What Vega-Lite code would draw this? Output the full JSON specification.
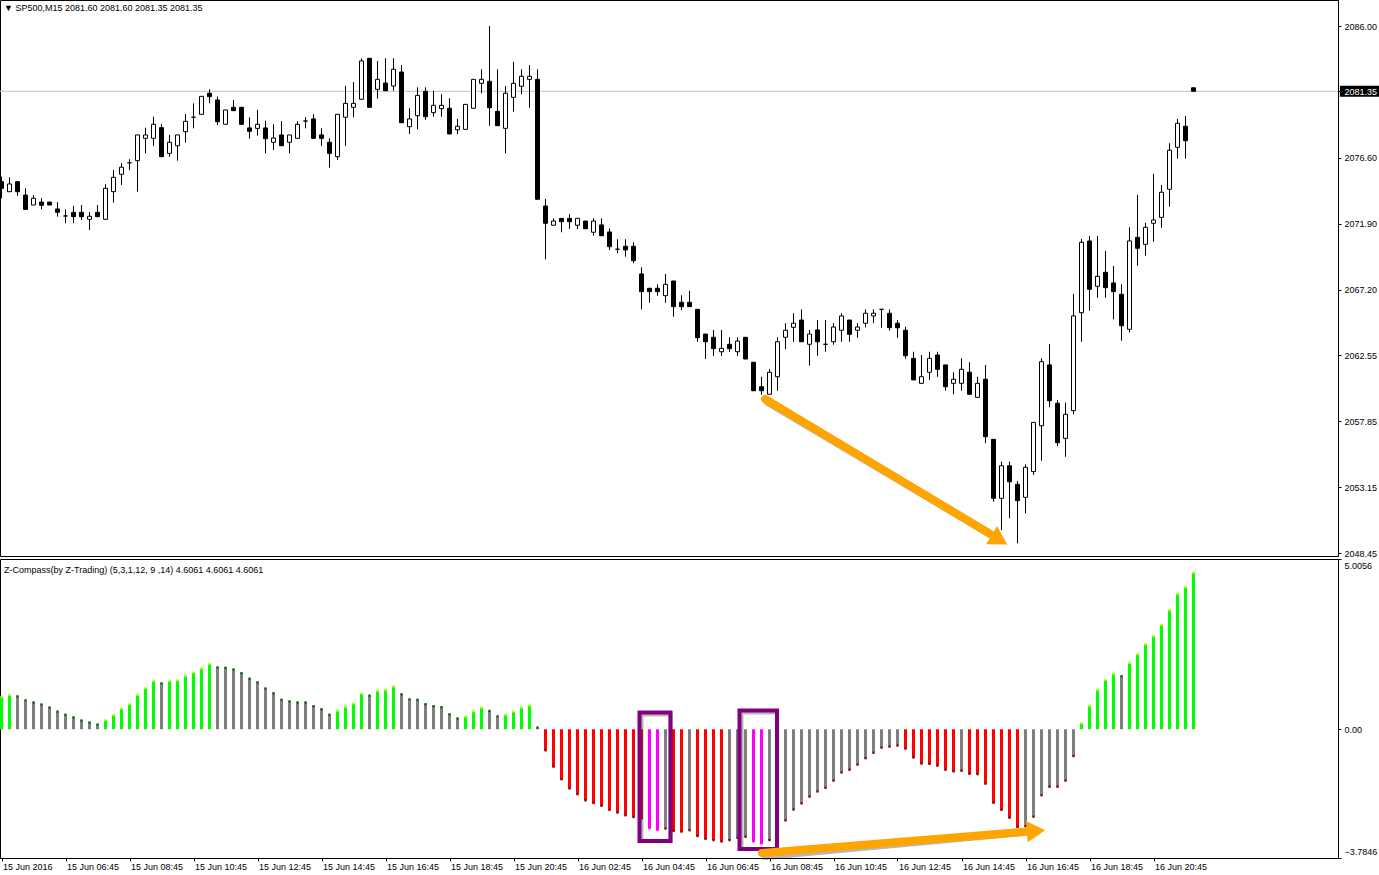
{
  "$schema": "https://vega.github.io/schema/vega-lite/v6.json",
  "background": "white",
  "padding": {"left": -1, "top": -1, "right": 0, "bottom": 0},
  "spacing": 3,
  "bounds": "flush",
  "config": {
    "view": {"stroke": "black", "strokeWidth": 1},
    "font": "Liberation Sans",
    "scale": {"continuousPadding": 0},
    "axis": {"labelFont": "Liberation Sans", "labelFontSize": 9, "labelColor": "black", "domainColor": "black", "tickColor": "black", "grid": false, "title": null, "tickSize": 3, "labelOverlap": false, "labelBound": false},
    "title": {"anchor": "start", "frame": "group", "font": "Liberation Sans", "fontSize": 9, "fontWeight": "normal", "color": "black"}
  },
  "datasets": {
    "candles": [
      {"i":0,"o":2074.91,"h":2075.27,"l":2073.73,"c":2074.44},
      {"i":1,"o":2074.20,"h":2075.22,"l":2074.20,"c":2074.75},
      {"i":2,"o":2074.91,"h":2074.91,"l":2073.91,"c":2074.20},
      {"i":3,"o":2073.96,"h":2074.44,"l":2072.94,"c":2072.94},
      {"i":4,"o":2073.25,"h":2073.96,"l":2073.25,"c":2073.73},
      {"i":5,"o":2073.46,"h":2073.73,"l":2072.94,"c":2073.23},
      {"i":6,"o":2073.46,"h":2073.46,"l":2073.25,"c":2073.25},
      {"i":7,"o":2072.97,"h":2073.46,"l":2072.42,"c":2072.73},
      {"i":8,"o":2072.47,"h":2072.94,"l":2071.95,"c":2072.47},
      {"i":9,"o":2072.73,"h":2073.18,"l":2071.95,"c":2072.42},
      {"i":10,"o":2072.73,"h":2073.25,"l":2072.18,"c":2072.42},
      {"i":11,"o":2072.23,"h":2072.75,"l":2071.47,"c":2072.45},
      {"i":12,"o":2072.73,"h":2073.25,"l":2072.42,"c":2072.42},
      {"i":13,"o":2072.23,"h":2074.73,"l":2072.23,"c":2074.44},
      {"i":14,"o":2074.20,"h":2075.74,"l":2073.42,"c":2075.22},
      {"i":15,"o":2075.44,"h":2076.24,"l":2074.68,"c":2075.94},
      {"i":16,"o":2076.26,"h":2076.51,"l":2075.74,"c":2076.26},
      {"i":17,"o":2076.41,"h":2078.24,"l":2074.20,"c":2078.24},
      {"i":18,"o":2078.00,"h":2078.76,"l":2076.93,"c":2078.24},
      {"i":19,"o":2078.00,"h":2079.54,"l":2077.47,"c":2079.00},
      {"i":20,"o":2078.76,"h":2079.02,"l":2076.69,"c":2076.69},
      {"i":21,"o":2076.93,"h":2078.24,"l":2076.69,"c":2077.72},
      {"i":22,"o":2077.47,"h":2078.24,"l":2076.41,"c":2078.24},
      {"i":23,"o":2078.47,"h":2079.73,"l":2077.69,"c":2079.21},
      {"i":24,"o":2079.50,"h":2080.49,"l":2078.71,"c":2079.50},
      {"i":25,"o":2079.71,"h":2080.99,"l":2079.71,"c":2080.99},
      {"i":26,"o":2081.21,"h":2081.49,"l":2080.49,"c":2080.97},
      {"i":27,"o":2080.73,"h":2080.97,"l":2078.95,"c":2079.18},
      {"i":28,"o":2079.00,"h":2080.02,"l":2079.00,"c":2080.02},
      {"i":29,"o":2080.21,"h":2080.73,"l":2079.97,"c":2079.97},
      {"i":30,"o":2080.21,"h":2080.21,"l":2079.00,"c":2079.00},
      {"i":31,"o":2078.74,"h":2079.50,"l":2077.97,"c":2078.50},
      {"i":32,"o":2078.71,"h":2080.02,"l":2078.19,"c":2079.00},
      {"i":33,"o":2078.74,"h":2079.26,"l":2076.93,"c":2077.97},
      {"i":34,"o":2077.72,"h":2079.00,"l":2077.17,"c":2078.02},
      {"i":35,"o":2078.24,"h":2079.23,"l":2077.47,"c":2077.47},
      {"i":36,"o":2077.72,"h":2078.24,"l":2076.93,"c":2078.24},
      {"i":37,"o":2078.00,"h":2079.23,"l":2078.00,"c":2079.00},
      {"i":38,"o":2079.23,"h":2079.50,"l":2078.71,"c":2079.23},
      {"i":39,"o":2079.38,"h":2079.73,"l":2078.00,"c":2078.00},
      {"i":40,"o":2078.24,"h":2078.71,"l":2077.47,"c":2078.00},
      {"i":41,"o":2077.72,"h":2078.00,"l":2075.91,"c":2076.93},
      {"i":42,"o":2076.69,"h":2079.71,"l":2076.46,"c":2079.71},
      {"i":43,"o":2079.50,"h":2081.73,"l":2077.47,"c":2080.49},
      {"i":44,"o":2080.21,"h":2082.01,"l":2079.50,"c":2080.49},
      {"i":45,"o":2080.78,"h":2083.70,"l":2080.78,"c":2083.51},
      {"i":46,"o":2083.70,"h":2083.70,"l":2080.21,"c":2080.21},
      {"i":47,"o":2081.49,"h":2083.51,"l":2080.82,"c":2082.20},
      {"i":48,"o":2081.94,"h":2083.70,"l":2081.39,"c":2081.39},
      {"i":49,"o":2081.73,"h":2083.70,"l":2081.39,"c":2082.92},
      {"i":50,"o":2082.72,"h":2083.22,"l":2079.11,"c":2079.11},
      {"i":51,"o":2078.83,"h":2080.14,"l":2078.31,"c":2079.38},
      {"i":52,"o":2079.61,"h":2081.63,"l":2078.64,"c":2081.06},
      {"i":53,"o":2081.35,"h":2081.63,"l":2079.31,"c":2079.54},
      {"i":54,"o":2079.83,"h":2081.39,"l":2079.54,"c":2080.35},
      {"i":55,"o":2080.11,"h":2081.14,"l":2079.54,"c":2080.35},
      {"i":56,"o":2080.14,"h":2080.85,"l":2078.31,"c":2078.31},
      {"i":57,"o":2078.61,"h":2079.38,"l":2078.31,"c":2078.86},
      {"i":58,"o":2078.64,"h":2080.42,"l":2078.64,"c":2080.42},
      {"i":59,"o":2080.14,"h":2082.20,"l":2080.14,"c":2082.20},
      {"i":60,"o":2081.92,"h":2082.92,"l":2081.21,"c":2082.20},
      {"i":61,"o":2082.06,"h":2086.00,"l":2078.90,"c":2080.18},
      {"i":62,"o":2079.92,"h":2082.92,"l":2078.90,"c":2078.90},
      {"i":63,"o":2078.71,"h":2081.73,"l":2076.93,"c":2081.21},
      {"i":64,"o":2080.92,"h":2083.44,"l":2079.90,"c":2081.92},
      {"i":65,"o":2081.71,"h":2082.92,"l":2081.14,"c":2082.42},
      {"i":66,"o":2082.20,"h":2083.22,"l":2080.18,"c":2082.42},
      {"i":67,"o":2082.20,"h":2082.92,"l":2073.66,"c":2073.66},
      {"i":68,"o":2073.18,"h":2073.68,"l":2069.38,"c":2071.95},
      {"i":69,"o":2071.81,"h":2072.30,"l":2071.81,"c":2072.11},
      {"i":70,"o":2072.30,"h":2072.30,"l":2071.31,"c":2072.06},
      {"i":71,"o":2072.30,"h":2072.59,"l":2071.54,"c":2072.06},
      {"i":72,"o":2071.81,"h":2072.30,"l":2071.54,"c":2072.30},
      {"i":73,"o":2072.11,"h":2072.11,"l":2071.56,"c":2071.56},
      {"i":74,"o":2071.31,"h":2072.30,"l":2071.06,"c":2072.11},
      {"i":75,"o":2071.83,"h":2072.30,"l":2071.06,"c":2071.06},
      {"i":76,"o":2071.33,"h":2071.59,"l":2070.05,"c":2070.28},
      {"i":77,"o":2070.10,"h":2070.81,"l":2069.81,"c":2070.10},
      {"i":78,"o":2070.31,"h":2070.81,"l":2069.57,"c":2070.05},
      {"i":79,"o":2070.31,"h":2070.59,"l":2069.10,"c":2069.28},
      {"i":80,"o":2068.34,"h":2068.81,"l":2065.82,"c":2067.08},
      {"i":81,"o":2067.32,"h":2067.32,"l":2066.29,"c":2067.08},
      {"i":82,"o":2067.32,"h":2067.60,"l":2066.79,"c":2067.08},
      {"i":83,"o":2066.79,"h":2068.34,"l":2066.29,"c":2067.60},
      {"i":84,"o":2067.84,"h":2067.84,"l":2065.30,"c":2066.01},
      {"i":85,"o":2066.32,"h":2066.82,"l":2065.77,"c":2066.01},
      {"i":86,"o":2066.32,"h":2067.13,"l":2066.01,"c":2066.01},
      {"i":87,"o":2065.82,"h":2065.82,"l":2063.51,"c":2063.80},
      {"i":88,"o":2064.06,"h":2064.06,"l":2062.28,"c":2063.51},
      {"i":89,"o":2063.83,"h":2064.35,"l":2062.50,"c":2063.02},
      {"i":90,"o":2062.80,"h":2064.35,"l":2062.50,"c":2063.04},
      {"i":91,"o":2063.33,"h":2063.83,"l":2062.78,"c":2063.02},
      {"i":92,"o":2062.80,"h":2063.83,"l":2062.50,"c":2063.56},
      {"i":93,"o":2063.83,"h":2063.83,"l":2062.28,"c":2062.28},
      {"i":94,"o":2062.05,"h":2062.05,"l":2060.02,"c":2060.02},
      {"i":95,"o":2060.31,"h":2061.02,"l":2059.72,"c":2060.02},
      {"i":96,"o":2059.77,"h":2061.57,"l":2059.77,"c":2061.34},
      {"i":97,"o":2061.02,"h":2063.83,"l":2060.02,"c":2063.51},
      {"i":98,"o":2063.83,"h":2064.83,"l":2062.99,"c":2064.33},
      {"i":99,"o":2064.54,"h":2065.54,"l":2063.51,"c":2064.83},
      {"i":100,"o":2065.06,"h":2065.82,"l":2063.51,"c":2063.51},
      {"i":101,"o":2063.33,"h":2064.35,"l":2061.81,"c":2064.06},
      {"i":102,"o":2064.35,"h":2065.06,"l":2062.52,"c":2063.51},
      {"i":103,"o":2063.33,"h":2065.06,"l":2062.80,"c":2063.33},
      {"i":104,"o":2063.51,"h":2064.83,"l":2063.30,"c":2064.56},
      {"i":105,"o":2064.33,"h":2065.54,"l":2063.51,"c":2065.35},
      {"i":106,"o":2065.06,"h":2065.06,"l":2063.51,"c":2064.04},
      {"i":107,"o":2064.33,"h":2064.83,"l":2063.80,"c":2064.56},
      {"i":108,"o":2064.83,"h":2065.82,"l":2064.54,"c":2065.54},
      {"i":109,"o":2065.35,"h":2065.82,"l":2064.83,"c":2065.54},
      {"i":110,"o":2065.82,"h":2065.82,"l":2064.51,"c":2065.82},
      {"i":111,"o":2065.54,"h":2065.82,"l":2064.30,"c":2064.51},
      {"i":112,"o":2064.83,"h":2065.06,"l":2063.80,"c":2064.51},
      {"i":113,"o":2064.33,"h":2064.58,"l":2062.30,"c":2062.52},
      {"i":114,"o":2062.33,"h":2062.80,"l":2060.79,"c":2060.79},
      {"i":115,"o":2060.55,"h":2062.57,"l":2060.55,"c":2061.02},
      {"i":116,"o":2061.34,"h":2062.80,"l":2060.79,"c":2062.33},
      {"i":117,"o":2062.57,"h":2062.80,"l":2061.02,"c":2061.55},
      {"i":118,"o":2061.86,"h":2061.86,"l":2060.02,"c":2060.31},
      {"i":119,"o":2060.55,"h":2061.34,"l":2059.77,"c":2060.84},
      {"i":120,"o":2060.55,"h":2062.33,"l":2060.02,"c":2061.55},
      {"i":121,"o":2061.34,"h":2062.05,"l":2059.77,"c":2059.77},
      {"i":122,"o":2059.55,"h":2061.02,"l":2059.55,"c":2060.55},
      {"i":123,"o":2060.84,"h":2061.86,"l":2056.28,"c":2056.75},
      {"i":124,"o":2056.56,"h":2056.56,"l":2052.12,"c":2052.36},
      {"i":125,"o":2052.36,"h":2054.97,"l":2050.10,"c":2054.68},
      {"i":126,"o":2054.68,"h":2054.97,"l":2050.94,"c":2053.54},
      {"i":127,"o":2053.36,"h":2053.59,"l":2049.16,"c":2052.19},
      {"i":128,"o":2052.43,"h":2054.78,"l":2051.29,"c":2054.57},
      {"i":129,"o":2054.26,"h":2057.77,"l":2054.02,"c":2057.77},
      {"i":130,"o":2057.53,"h":2062.33,"l":2055.04,"c":2062.09},
      {"i":131,"o":2061.86,"h":2063.35,"l":2058.84,"c":2059.31},
      {"i":132,"o":2059.13,"h":2059.36,"l":2056.09,"c":2056.32},
      {"i":133,"o":2056.63,"h":2059.17,"l":2055.32,"c":2058.34},
      {"i":134,"o":2058.60,"h":2066.91,"l":2058.34,"c":2065.35},
      {"i":135,"o":2065.58,"h":2070.83,"l":2063.51,"c":2070.59},
      {"i":136,"o":2070.69,"h":2071.04,"l":2065.72,"c":2067.25},
      {"i":137,"o":2067.46,"h":2071.04,"l":2066.65,"c":2068.17},
      {"i":138,"o":2068.46,"h":2069.97,"l":2066.65,"c":2067.36},
      {"i":139,"o":2067.70,"h":2068.91,"l":2065.11,"c":2067.08},
      {"i":140,"o":2066.89,"h":2067.60,"l":2063.59,"c":2064.65},
      {"i":141,"o":2064.40,"h":2071.66,"l":2064.18,"c":2070.69},
      {"i":142,"o":2070.95,"h":2073.96,"l":2068.93,"c":2070.17},
      {"i":143,"o":2070.45,"h":2071.99,"l":2069.64,"c":2071.66},
      {"i":144,"o":2071.95,"h":2075.46,"l":2070.64,"c":2072.18},
      {"i":145,"o":2072.37,"h":2074.68,"l":2071.63,"c":2074.16},
      {"i":146,"o":2074.37,"h":2077.65,"l":2073.13,"c":2077.15},
      {"i":147,"o":2077.36,"h":2079.38,"l":2076.55,"c":2079.07},
      {"i":148,"o":2078.86,"h":2079.59,"l":2076.55,"c":2077.83},
      {"i":149,"o":2081.60,"h":2081.60,"l":2081.35,"c":2081.35}
    ],
    "osc": [
      {"i":0,"v":0.95,"s":"up"},{"i":1,"v":1.01,"s":"up"},{"i":2,"v":0.97,"s":"flat"},{"i":3,"v":0.85,"s":"flat"},
      {"i":4,"v":0.79,"s":"flat"},{"i":5,"v":0.73,"s":"flat"},{"i":6,"v":0.64,"s":"flat"},{"i":7,"v":0.52,"s":"flat"},
      {"i":8,"v":0.43,"s":"flat"},{"i":9,"v":0.35,"s":"flat"},{"i":10,"v":0.26,"s":"flat"},{"i":11,"v":0.20,"s":"flat"},
      {"i":12,"v":0.14,"s":"flat"},{"i":13,"v":0.27,"s":"up"},{"i":14,"v":0.42,"s":"up"},{"i":15,"v":0.61,"s":"up"},
      {"i":16,"v":0.74,"s":"up"},{"i":17,"v":1.01,"s":"up"},{"i":18,"v":1.21,"s":"up"},{"i":19,"v":1.42,"s":"up"},
      {"i":20,"v":1.35,"s":"flat"},{"i":21,"v":1.42,"s":"up"},{"i":22,"v":1.44,"s":"up"},{"i":23,"v":1.57,"s":"up"},
      {"i":24,"v":1.67,"s":"up"},{"i":25,"v":1.79,"s":"up"},{"i":26,"v":1.92,"s":"up"},{"i":27,"v":1.82,"s":"flat"},
      {"i":28,"v":1.81,"s":"flat"},{"i":29,"v":1.76,"s":"flat"},{"i":30,"v":1.65,"s":"flat"},{"i":31,"v":1.49,"s":"flat"},
      {"i":32,"v":1.38,"s":"flat"},{"i":33,"v":1.20,"s":"flat"},{"i":34,"v":1.06,"s":"flat"},{"i":35,"v":0.87,"s":"flat"},
      {"i":36,"v":0.82,"s":"flat"},{"i":37,"v":0.79,"s":"flat"},{"i":38,"v":0.79,"s":"flat"},{"i":39,"v":0.68,"s":"flat"},
      {"i":40,"v":0.59,"s":"flat"},{"i":41,"v":0.43,"s":"flat"},{"i":42,"v":0.55,"s":"up"},{"i":43,"v":0.66,"s":"up"},
      {"i":44,"v":0.76,"s":"up"},{"i":45,"v":1.05,"s":"up"},{"i":46,"v":0.99,"s":"flat"},{"i":47,"v":1.13,"s":"up"},
      {"i":48,"v":1.16,"s":"up"},{"i":49,"v":1.26,"s":"up"},{"i":50,"v":1.03,"s":"flat"},{"i":51,"v":0.88,"s":"flat"},
      {"i":52,"v":0.87,"s":"flat"},{"i":53,"v":0.74,"s":"flat"},{"i":54,"v":0.68,"s":"flat"},{"i":55,"v":0.65,"s":"flat"},
      {"i":56,"v":0.44,"s":"flat"},{"i":57,"v":0.32,"s":"flat"},{"i":58,"v":0.37,"s":"up"},{"i":59,"v":0.53,"s":"up"},
      {"i":60,"v":0.64,"s":"up"},{"i":61,"v":0.54,"s":"flat"},{"i":62,"v":0.38,"s":"flat"},{"i":63,"v":0.43,"s":"up"},
      {"i":64,"v":0.52,"s":"up"},{"i":65,"v":0.64,"s":"up"},{"i":66,"v":0.70,"s":"up"},{"i":67,"v":0.05,"s":"flat"},
      {"i":68,"v":-0.62,"s":"down"},{"i":69,"v":-1.10,"s":"down"},{"i":70,"v":-1.47,"s":"down"},{"i":71,"v":-1.74,"s":"down"},
      {"i":72,"v":-1.91,"s":"down"},{"i":73,"v":-2.09,"s":"down"},{"i":74,"v":-2.17,"s":"down"},{"i":75,"v":-2.25,"s":"down"},
      {"i":76,"v":-2.37,"s":"down"},{"i":77,"v":-2.45,"s":"down"},{"i":78,"v":-2.53,"s":"down"},{"i":79,"v":-2.58,"s":"down"},
      {"i":80,"v":-2.62,"s":"down"},{"i":81,"v":-2.91,"s":"signal"},{"i":82,"v":-2.96,"s":"signal"},{"i":83,"v":-2.92,"s":"flat"},
      {"i":84,"v":-2.99,"s":"down"},{"i":85,"v":-3.01,"s":"down"},{"i":86,"v":-2.97,"s":"flat"},{"i":87,"v":-3.14,"s":"down"},
      {"i":88,"v":-3.22,"s":"down"},{"i":89,"v":-3.26,"s":"down"},{"i":90,"v":-3.30,"s":"down"},{"i":91,"v":-3.26,"s":"flat"},
      {"i":92,"v":-3.19,"s":"flat"},{"i":93,"v":-3.16,"s":"flat"},{"i":94,"v":-3.30,"s":"signal"},{"i":95,"v":-3.36,"s":"signal"},
      {"i":96,"v":-3.26,"s":"flat"},{"i":97,"v":-2.99,"s":"flat"},{"i":98,"v":-2.68,"s":"flat"},{"i":99,"v":-2.36,"s":"flat"},
      {"i":100,"v":-2.18,"s":"flat"},{"i":101,"v":-1.98,"s":"flat"},{"i":102,"v":-1.83,"s":"flat"},{"i":103,"v":-1.72,"s":"flat"},
      {"i":104,"v":-1.51,"s":"flat"},{"i":105,"v":-1.27,"s":"flat"},{"i":106,"v":-1.19,"s":"flat"},{"i":107,"v":-1.04,"s":"flat"},
      {"i":108,"v":-0.85,"s":"flat"},{"i":109,"v":-0.69,"s":"flat"},{"i":110,"v":-0.54,"s":"flat"},{"i":111,"v":-0.51,"s":"flat"},
      {"i":112,"v":-0.48,"s":"flat"},{"i":113,"v":-0.57,"s":"down"},{"i":114,"v":-0.83,"s":"down"},{"i":115,"v":-1.01,"s":"down"},
      {"i":116,"v":-1.02,"s":"down"},{"i":117,"v":-1.07,"s":"down"},{"i":118,"v":-1.19,"s":"down"},{"i":119,"v":-1.24,"s":"down"},
      {"i":120,"v":-1.22,"s":"flat"},{"i":121,"v":-1.31,"s":"down"},{"i":122,"v":-1.32,"s":"down"},{"i":123,"v":-1.60,"s":"down"},
      {"i":124,"v":-2.16,"s":"down"},{"i":125,"v":-2.37,"s":"down"},{"i":126,"v":-2.60,"s":"down"},{"i":127,"v":-2.87,"s":"down"},
      {"i":128,"v":-2.85,"s":"flat"},{"i":129,"v":-2.57,"s":"flat"},{"i":130,"v":-1.94,"s":"flat"},{"i":131,"v":-1.69,"s":"flat"},
      {"i":132,"v":-1.69,"s":"flat"},{"i":133,"v":-1.51,"s":"flat"},{"i":134,"v":-0.79,"s":"flat"},{"i":135,"v":0.18,"s":"up"},
      {"i":136,"v":0.69,"s":"up"},{"i":137,"v":1.16,"s":"up"},{"i":138,"v":1.45,"s":"up"},{"i":139,"v":1.63,"s":"up"},
      {"i":140,"v":1.56,"s":"flat"},{"i":141,"v":1.95,"s":"up"},{"i":142,"v":2.21,"s":"up"},{"i":143,"v":2.50,"s":"up"},
      {"i":144,"v":2.74,"s":"up"},{"i":145,"v":3.07,"s":"up"},{"i":146,"v":3.50,"s":"up"},{"i":147,"v":3.98,"s":"up"},
      {"i":148,"v":4.18,"s":"up"},{"i":149,"v":4.6061,"s":"up"}
    ],
    "arrowTop": [{"x1":95.44,"y1":2059.43,"x2":123.6,"y2":2049.82,"hx":124.74,"hy":2049.40}],
    "arrowBottom": [{"x1":95.06,"y1":-3.638,"x2":128.3,"y2":-3.008,"hx":129.31,"hy":-2.988}],
    "boxes": [
      {"x1":79.75,"x2":83.625,"y1":0.493,"y2":-3.287},
      {"x1":92.25,"x2":96.94,"y1":0.552,"y2":-3.521}
    ]
  },
  "vconcat": [
    {
      "width": 1338,
      "height": 556,
      "title": {"text": "▼  SP500,M15  2081.60 2081.60 2081.35 2081.35", "dx": 4, "offset": -13},
      "encoding": {
        "x": {"type": "quantitative", "scale": {"domain": [-0.1875, 167.0625], "nice": false, "zero": false, "padding": 0}, "axis": null}
      },
      "layer": [
        {
          "data": {"name": "candles"},
          "transform": [{"filter": "datum.i == 149"}],
          "mark": {"type": "rule", "color": "#C0C0C0", "strokeWidth": 1},
          "encoding": {
            "y": {
              "field": "c", "type": "quantitative",
              "scale": {"domain": [2048.251, 2087.852], "nice": false, "zero": false, "padding": 0},
              "axis": {
                "orient": "right",
                "values": [2086.00, 2083.65, 2081.35, 2078.95, 2076.60, 2074.25, 2071.90, 2069.55, 2067.20, 2064.90, 2062.55, 2060.20, 2057.85, 2055.50, 2053.15, 2050.80, 2048.45],
                "format": ".2f",
                "labelPadding": 3,
                "labelOverlap": false,
                "minExtent": 41,
                "maxExtent": 41,
                "zindex": 2,
                "labelColor": {"condition": {"test": "datum.value == 2081.35", "value": "white"}, "value": "black"}
              }
            }
          }
        },
        {
          "data": {"name": "candles"},
          "transform": [{"filter": "datum.i == 149"}],
          "mark": {"type": "bar", "orient": "horizontal", "size": 11, "color": "black"},
          "encoding": {
            "x": {"datum": 167.3},
            "x2": {"datum": 172.2},
            "y": {"field": "c", "type": "quantitative"}
          }
        },
        {
          "data": {"name": "candles"},
          "mark": {"type": "rule", "color": "black", "strokeWidth": 1, "clip": true},
          "encoding": {
            "x": {"field": "i", "type": "quantitative"},
            "y": {"field": "l", "type": "quantitative"},
            "y2": {"field": "h"}
          }
        },
        {
          "data": {"name": "candles"},
          "mark": {"type": "bar", "width": 4, "stroke": "black", "strokeWidth": 1, "clip": true},
          "encoding": {
            "x": {"field": "i", "type": "quantitative"},
            "y": {"field": "o", "type": "quantitative"},
            "y2": {"field": "c"},
            "fill": {"condition": {"test": "datum.c < datum.o", "value": "black"}, "value": "white"}
          }
        },
        {
          "data": {"name": "arrowTop"},
          "mark": {"type": "rule", "color": "#303030", "opacity": 0.35, "strokeWidth": 8, "strokeCap": "round", "xOffset": 3, "yOffset": 3},
          "encoding": {
            "x": {"field": "x1", "type": "quantitative"}, "x2": {"field": "x2"},
            "y": {"field": "y1", "type": "quantitative"}, "y2": {"field": "y2"}
          }
        },
        {
          "data": {"name": "arrowTop"},
          "mark": {"type": "rule", "color": "#FFA500", "strokeWidth": 8, "strokeCap": "round"},
          "encoding": {
            "x": {"field": "x1", "type": "quantitative"}, "x2": {"field": "x2"},
            "y": {"field": "y1", "type": "quantitative"}, "y2": {"field": "y2"}
          }
        },
        {
          "data": {"name": "arrowTop"},
          "mark": {"type": "point", "shape": "triangle-right", "filled": true, "opacity": 1, "color": "#FFA500", "size": 450, "angle": 31},
          "encoding": {
            "x": {"field": "hx", "type": "quantitative"},
            "y": {"field": "hy", "type": "quantitative"}
          }
        }
      ]
    },
    {
      "width": 1338,
      "height": 299,
      "title": {"text": "Z-Compass(by Z-Trading) (5,3,1,12, 9 ,14) 4.6061 4.6061 4.6061", "dx": 4, "offset": -16},
      "encoding": {
        "x": {
          "type": "quantitative",
          "scale": {"domain": [-0.1875, 167.0625], "nice": false, "zero": false, "padding": 0},
          "axis": {
            "orient": "bottom",
            "values": [0, 8, 16, 24, 32, 40, 48, 56, 64, 72, 80, 88, 96, 104, 112, 120, 128, 136, 144],
            "labelExpr": "['15 Jun 2016','15 Jun 06:45','15 Jun 08:45','15 Jun 10:45','15 Jun 12:45','15 Jun 14:45','15 Jun 16:45','15 Jun 18:45','15 Jun 20:45','16 Jun 02:45','16 Jun 04:45','16 Jun 06:45','16 Jun 08:45','16 Jun 10:45','16 Jun 12:45','16 Jun 14:45','16 Jun 16:45','16 Jun 18:45','16 Jun 20:45'][round(datum.value / 8)]",
            "labelAlign": "left",
            "labelBaseline": "top",
            "labelPadding": 1,
            "labelOffset": 1,
            "labelFlush": false,
            "minExtent": 16,
            "maxExtent": 16
          }
        }
      },
      "layer": [
        {
          "data": {"name": "osc"},
          "mark": {"type": "bar", "width": 3, "clip": true},
          "encoding": {
            "x": {"field": "i", "type": "quantitative"},
            "y": {
              "field": "v", "type": "quantitative",
              "scale": {"domain": [-3.7846, 5.0056], "nice": false, "zero": false, "padding": 0},
              "axis": {
                "orient": "right",
                "values": [5.0056, 0, -3.7846],
                "labelExpr": "datum.value == 0 ? '0.00' : format(datum.value, '.4f')",
                "labelFlush": true,
                "labelFlushOffset": -2,
                "labelPadding": 3,
                "labelOverlap": false,
                "minExtent": 41,
                "maxExtent": 41
              }
            },
            "y2": {"datum": 0},
            "color": {
              "field": "s", "type": "nominal",
              "scale": {"domain": ["up", "flat", "down", "signal"], "range": ["#00FF00", "#808080", "#FF0000", "#FF00FF"]},
              "legend": null
            }
          }
        },
        {
          "data": {"name": "osc"},
          "mark": {"type": "square", "size": 5, "opacity": 1, "clip": true},
          "encoding": {
            "x": {"field": "i", "type": "quantitative"},
            "y": {"field": "v", "type": "quantitative"},
            "color": {
              "condition": [
                {"test": "datum.s == 'up'", "value": "#C8FF00"},
                {"test": "datum.s == 'signal'", "value": "#FF00FF"},
                {"test": "datum.v >= 0", "value": "#006400"}
              ],
              "value": "#800000"
            }
          }
        },
        {
          "data": {"name": "boxes"},
          "mark": {"type": "rect", "fillOpacity": 0, "stroke": "#303030", "strokeOpacity": 0.35, "strokeWidth": 4, "xOffset": 2, "yOffset": 2},
          "encoding": {
            "x": {"field": "x1", "type": "quantitative"}, "x2": {"field": "x2"},
            "y": {"field": "y1", "type": "quantitative"}, "y2": {"field": "y2"}
          }
        },
        {
          "data": {"name": "boxes"},
          "mark": {"type": "rect", "fillOpacity": 0, "stroke": "#800080", "strokeWidth": 4},
          "encoding": {
            "x": {"field": "x1", "type": "quantitative"}, "x2": {"field": "x2"},
            "y": {"field": "y1", "type": "quantitative"}, "y2": {"field": "y2"}
          }
        },
        {
          "data": {"name": "arrowBottom"},
          "mark": {"type": "rule", "color": "#303030", "opacity": 0.35, "strokeWidth": 8, "strokeCap": "round", "xOffset": 3, "yOffset": 3},
          "encoding": {
            "x": {"field": "x1", "type": "quantitative"}, "x2": {"field": "x2"},
            "y": {"field": "y1", "type": "quantitative"}, "y2": {"field": "y2"}
          }
        },
        {
          "data": {"name": "arrowBottom"},
          "mark": {"type": "rule", "color": "#FFA500", "strokeWidth": 8, "strokeCap": "round"},
          "encoding": {
            "x": {"field": "x1", "type": "quantitative"}, "x2": {"field": "x2"},
            "y": {"field": "y1", "type": "quantitative"}, "y2": {"field": "y2"}
          }
        },
        {
          "data": {"name": "arrowBottom"},
          "mark": {"type": "point", "shape": "triangle-right", "filled": true, "opacity": 1, "color": "#FFA500", "size": 450, "angle": -4.5},
          "encoding": {
            "x": {"field": "hx", "type": "quantitative"},
            "y": {"field": "hy", "type": "quantitative"}
          }
        }
      ]
    }
  ]
}
